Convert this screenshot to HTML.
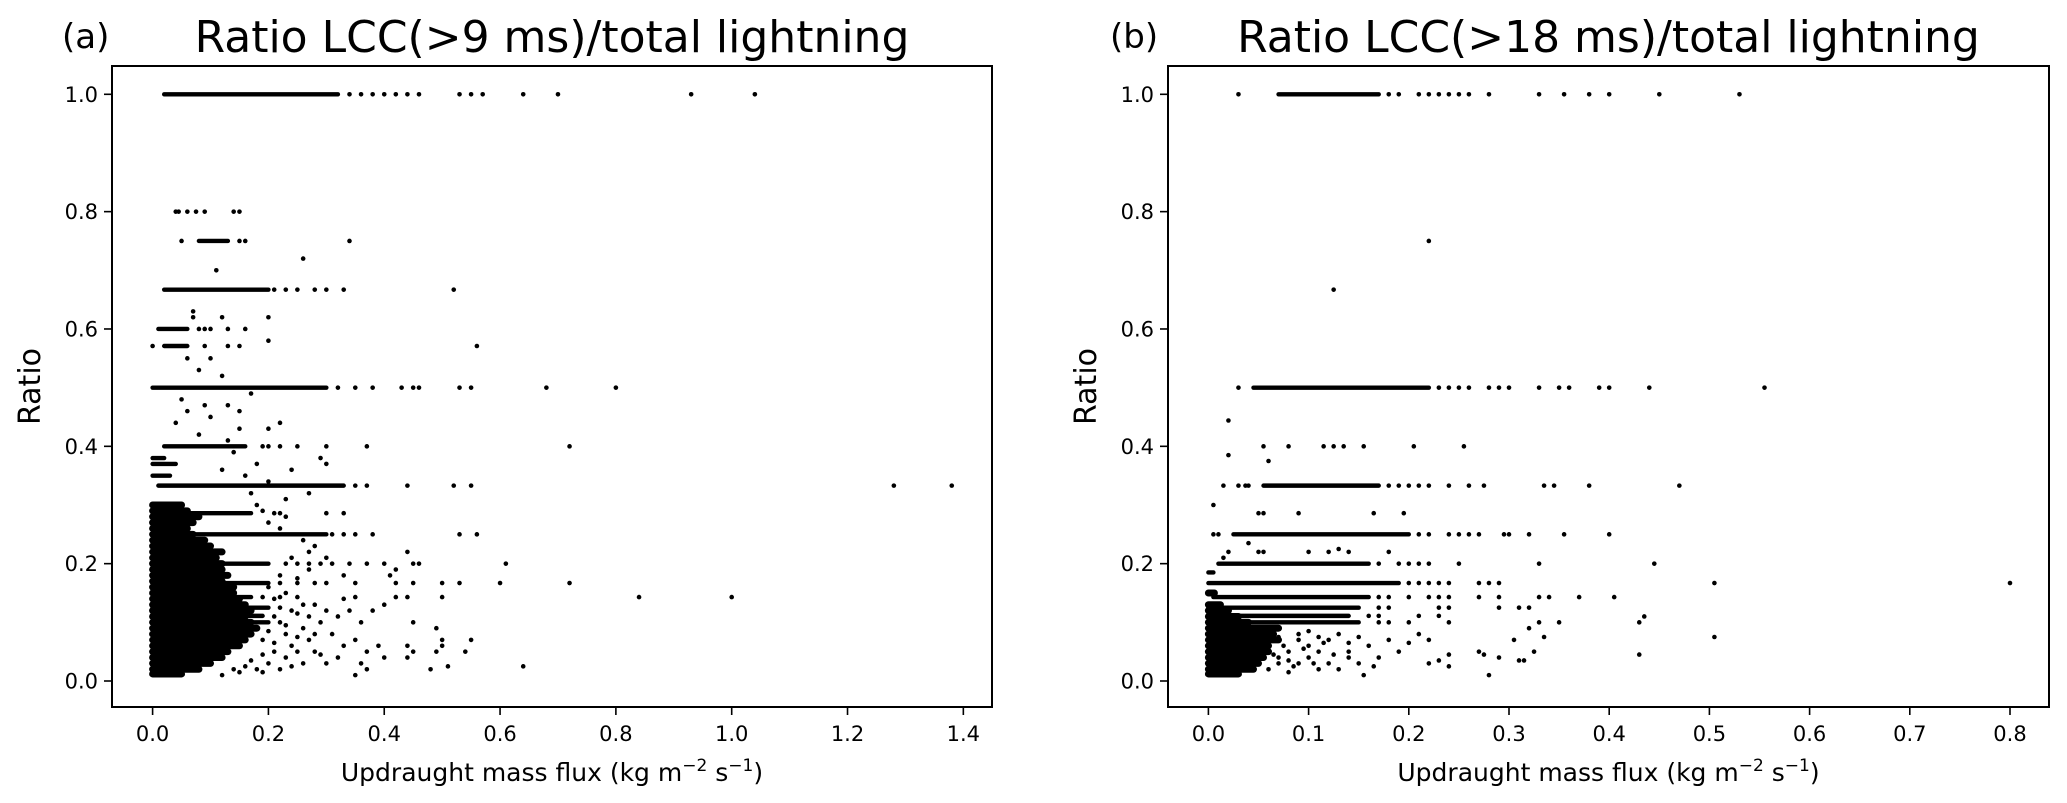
<!DOCTYPE html>
<html><head><meta charset="utf-8"><style>
html,body{margin:0;padding:0;background:#fff;}
svg{display:block;font-family:"DejaVu Sans","Liberation Sans",sans-serif;}
</style></head><body>
<svg id="chart" width="2067" height="803" viewBox="0 0 2067 803"></svg>
<script>
// ---------- data ----------
const xTicksA = [0.0,0.2,0.4,0.6,0.8,1.0,1.2,1.4];
const xTickLabelsA = ["0.0","0.2","0.4","0.6","0.8","1.0","1.2","1.4"];
const xTicksB = [0.0,0.1,0.2,0.3,0.4,0.5,0.6,0.7,0.8];
const xTickLabelsB = ["0.0","0.1","0.2","0.3","0.4","0.5","0.6","0.7","0.8"];
const yTicks = [0.0,0.2,0.4,0.6,0.8,1.0];
const yTickLabels = ["0.0","0.2","0.4","0.6","0.8","1.0"];

// dense rows: [ratio, xStart, xEnd]
const rowsA = [
[1.0,0.02,0.32],[0.75,0.08,0.13],[0.667,0.02,0.2],[0.6,0.01,0.06],[0.571,0.02,0.06],
[0.5,0.0,0.3],[0.4,0.02,0.16],[0.333,0.01,0.33],[0.286,0.01,0.17],[0.25,0.0,0.3],
[0.2,0.0,0.2],[0.167,0.0,0.2],[0.143,0.0,0.17],[0.125,0.0,0.2],[0.111,0.0,0.19],[0.1,0.0,0.2],
[0.35,0.0,0.03],[0.37,0.0,0.04],[0.38,0.0,0.02]
];
// solid dense core: [ratio, xStart, xEnd]
const blobA = [
[0.30,0.0,0.05],[0.29,0.0,0.06],[0.28,0.0,0.08],[0.27,0.0,0.07],[0.26,0.0,0.06],[0.25,0.0,0.07],[0.24,0.0,0.09],
[0.23,0.0,0.1],[0.22,0.0,0.12],[0.21,0.0,0.11],[0.20,0.0,0.12],[0.19,0.0,0.12],[0.18,0.0,0.13],[0.17,0.0,0.12],
[0.16,0.0,0.14],[0.15,0.0,0.14],[0.14,0.0,0.15],[0.13,0.0,0.16],[0.12,0.0,0.17],[0.11,0.0,0.16],[0.10,0.0,0.17],
[0.09,0.0,0.18],[0.08,0.0,0.17],[0.07,0.0,0.16],[0.06,0.0,0.15],[0.05,0.0,0.13],[0.04,0.0,0.12],
[0.03,0.0,0.1],[0.02,0.0,0.08],[0.012,0.0,0.05]
];
const ptsA = [
[0.34,1],[0.36,1],[0.38,1],[0.40,1],[0.42,1],[0.44,1],[0.46,1],[0.53,1],[0.55,1],[0.57,1],[0.64,1],[0.70,1],[0.93,1],[1.04,1],
[0.04,0.8],[0.045,0.8],[0.06,0.8],[0.075,0.8],[0.09,0.8],[0.14,0.8],[0.15,0.8],
[0.05,0.75],[0.15,0.75],[0.16,0.75],[0.34,0.75],[0.11,0.7],[0.26,0.72],
[0.21,0.667],[0.23,0.667],[0.25,0.667],[0.28,0.667],[0.30,0.667],[0.33,0.667],[0.52,0.667],
[0.08,0.6],[0.09,0.6],[0.1,0.6],[0.13,0.6],[0.16,0.6],[0.0,0.571],[0.09,0.571],[0.13,0.571],[0.15,0.571],[0.56,0.571],
[0.32,0.5],[0.35,0.5],[0.38,0.5],[0.43,0.5],[0.45,0.5],[0.46,0.5],[0.53,0.5],[0.55,0.5],[0.68,0.5],[0.80,0.5],
[0.19,0.4],[0.2,0.4],[0.22,0.4],[0.25,0.4],[0.3,0.4],[0.37,0.4],[0.72,0.4],
[0.35,0.333],[0.37,0.333],[0.44,0.333],[0.52,0.333],[0.55,0.333],[1.28,0.333],[1.38,0.333],
[0.3,0.286],[0.33,0.286],[0.21,0.286],[0.22,0.286],
[0.31,0.25],[0.33,0.25],[0.35,0.25],[0.38,0.25],[0.53,0.25],[0.56,0.25],
[0.23,0.2],[0.25,0.2],[0.27,0.2],[0.29,0.2],[0.31,0.2],[0.34,0.2],[0.37,0.2],[0.40,0.2],[0.45,0.2],[0.46,0.2],[0.61,0.2],
[0.22,0.167],[0.25,0.167],[0.28,0.167],[0.3,0.167],[0.35,0.167],[0.42,0.167],[0.45,0.167],[0.5,0.167],[0.53,0.167],[0.6,0.167],[0.72,0.167],
[0.19,0.143],[0.22,0.143],[0.25,0.143],[0.35,0.143],[0.42,0.143],[0.44,0.143],[0.5,0.143],[0.84,0.143],[1.0,0.143],
[0.22,0.18],[0.25,0.175],[0.27,0.19],[0.24,0.21],[0.27,0.22],[0.3,0.21],[0.33,0.18],[0.36,0.1],[0.38,0.12],[0.4,0.13],
[0.41,0.18],[0.42,0.19],[0.44,0.22],[0.35,0.07],[0.37,0.05],[0.39,0.06],[0.4,0.04],[0.44,0.06],[0.45,0.05],[0.44,0.04],
[0.45,0.1],[0.49,0.09],[0.5,0.07],[0.49,0.05],[0.5,0.06],[0.48,0.02],[0.51,0.025],[0.54,0.05],[0.55,0.07],[0.64,0.025],
[0.35,0.01],[0.3,0.03],[0.32,0.04],[0.28,0.05],[0.26,0.03],[0.24,0.06],[0.31,0.08],[0.33,0.06],[0.36,0.03],[0.37,0.02],
[0.26,0.09],[0.29,0.1],[0.3,0.12],[0.32,0.11],[0.28,0.13],[0.33,0.14],[0.34,0.12],[0.22,0.1],[0.23,0.08],[0.21,0.05],
[0.2,0.03],[0.22,0.02],[0.19,0.07],[0.25,0.115],[0.27,0.07],[0.29,0.045],[0.18,0.02],[0.15,0.015],[0.12,0.01],[0.22,0.125],
[0.22,0.26],[0.2,0.27],[0.19,0.29],[0.18,0.3],[0.23,0.31],[0.27,0.32],[0.16,0.35],[0.12,0.36],[0.18,0.37],[0.13,0.41],
[0.08,0.42],[0.04,0.44],[0.09,0.47],[0.13,0.47],[0.17,0.49],[0.05,0.48],[0.1,0.55],[0.06,0.55],[0.08,0.53],[0.12,0.52],
[0.07,0.62],[0.07,0.63],[0.12,0.62],[0.2,0.62],[0.2,0.58],[0.15,0.46],[0.22,0.44],[0.2,0.43],[0.3,0.37],[0.29,0.38],
[0.2,0.34],[0.14,0.39],[0.1,0.45],[0.06,0.46],[0.15,0.43],[0.24,0.36],[0.26,0.24],[0.28,0.23],[0.23,0.28],[0.17,0.32],
[0.2,0.16],[0.21,0.14],[0.23,0.15],[0.24,0.12],[0.26,0.13],[0.21,0.11],[0.23,0.095],[0.25,0.075],[0.2,0.085],[0.27,0.11],
[0.19,0.045],[0.21,0.065],[0.23,0.04],[0.25,0.05],[0.17,0.035],[0.16,0.025],[0.19,0.015],[0.14,0.02],[0.24,0.025],[0.28,0.08]
];

const rowsB = [
[1.0,0.07,0.17],[0.5,0.045,0.22],[0.333,0.055,0.17],[0.25,0.025,0.2],[0.2,0.01,0.16],[0.167,0.0,0.19],
[0.143,0.005,0.16],[0.125,0.0,0.15],[0.111,0.0,0.14],[0.1,0.0,0.15],[0.185,0.0,0.005]
];
const blobB = [
[0.12,0.0,0.02],[0.11,0.0,0.03],[0.10,0.0,0.04],[0.09,0.0,0.07],[0.08,0.0,0.065],[0.07,0.0,0.07],[0.06,0.0,0.06],
[0.05,0.0,0.06],[0.04,0.0,0.055],[0.03,0.0,0.05],[0.02,0.0,0.045],[0.012,0.0,0.03],[0.13,0.0,0.012],[0.15,0.0,0.006]
];
const ptsB = [
[0.03,1],[0.18,1],[0.19,1],[0.21,1],[0.22,1],[0.23,1],[0.24,1],[0.25,1],[0.26,1],[0.28,1],[0.33,1],[0.355,1],[0.38,1],[0.40,1],[0.45,1],[0.53,1],
[0.22,0.75],[0.125,0.667],
[0.03,0.5],[0.23,0.5],[0.24,0.5],[0.25,0.5],[0.26,0.5],[0.28,0.5],[0.29,0.5],[0.3,0.5],[0.33,0.5],[0.35,0.5],[0.36,0.5],[0.39,0.5],[0.40,0.5],[0.44,0.5],[0.555,0.5],
[0.02,0.444],[0.055,0.4],[0.08,0.4],[0.115,0.4],[0.125,0.4],[0.135,0.4],[0.155,0.4],[0.205,0.4],[0.255,0.4],[0.02,0.385],[0.06,0.375],
[0.015,0.333],[0.03,0.333],[0.037,0.333],[0.04,0.333],[0.18,0.333],[0.19,0.333],[0.2,0.333],[0.21,0.333],[0.22,0.333],[0.24,0.333],[0.26,0.333],[0.275,0.333],[0.335,0.333],[0.345,0.333],[0.38,0.333],[0.47,0.333],
[0.005,0.3],[0.05,0.286],[0.055,0.286],[0.09,0.286],[0.165,0.286],[0.195,0.286],
[0.005,0.25],[0.01,0.25],[0.21,0.25],[0.22,0.25],[0.24,0.25],[0.25,0.25],[0.26,0.25],[0.27,0.25],[0.295,0.25],[0.3,0.25],[0.32,0.25],[0.355,0.25],[0.4,0.25],
[0.04,0.235],[0.05,0.22],[0.055,0.22],[0.1,0.22],[0.12,0.22],[0.13,0.225],[0.14,0.22],[0.18,0.22],[0.015,0.21],[0.02,0.22],
[0.17,0.2],[0.19,0.2],[0.2,0.2],[0.21,0.2],[0.22,0.2],[0.25,0.2],[0.33,0.2],[0.445,0.2],
[0.2,0.167],[0.21,0.167],[0.22,0.167],[0.23,0.167],[0.24,0.167],[0.27,0.167],[0.28,0.167],[0.29,0.167],[0.505,0.167],[0.8,0.167],
[0.17,0.143],[0.18,0.143],[0.2,0.143],[0.22,0.143],[0.23,0.143],[0.24,0.143],[0.27,0.143],[0.29,0.143],[0.33,0.143],[0.34,0.143],[0.37,0.143],[0.405,0.143],
[0.17,0.125],[0.18,0.125],[0.23,0.125],[0.24,0.125],[0.29,0.125],[0.31,0.125],[0.32,0.125],[0.16,0.111],[0.17,0.111],[0.21,0.111],[0.23,0.111],
[0.17,0.1],[0.18,0.1],[0.2,0.1],[0.24,0.1],[0.33,0.1],[0.35,0.1],
[0.07,0.09],[0.09,0.08],[0.1,0.085],[0.12,0.07],[0.13,0.08],[0.14,0.065],[0.15,0.075],[0.16,0.06],[0.18,0.07],[0.19,0.05],
[0.2,0.065],[0.21,0.08],[0.22,0.07],[0.22,0.03],[0.23,0.035],[0.24,0.025],[0.24,0.045],[0.27,0.05],[0.275,0.045],[0.28,0.01],[0.29,0.04],
[0.305,0.07],[0.31,0.035],[0.315,0.035],[0.32,0.09],[0.325,0.05],[0.335,0.075],[0.43,0.045],[0.43,0.1],[0.435,0.11],[0.505,0.075],
[0.06,0.06],[0.07,0.04],[0.08,0.05],[0.09,0.03],[0.1,0.04],[0.11,0.05],[0.12,0.03],[0.13,0.02],[0.14,0.04],[0.15,0.03],
[0.155,0.01],[0.165,0.025],[0.11,0.02],[0.08,0.015],[0.06,0.02],[0.1,0.06],[0.09,0.07],[0.11,0.075],[0.14,0.05],[0.17,0.04],
[0.07,0.075],[0.075,0.06],[0.08,0.035],[0.085,0.025],[0.095,0.055],[0.105,0.03],[0.115,0.065],[0.125,0.045],[0.065,0.045],[0.07,0.03]
];

// ---------- layout ----------
const NS = "http://www.w3.org/2000/svg";
const svg = document.getElementById("chart");
const yTop = 66, yBot = 707;
function yS(v){ return 681 - v*586.7; }
const panels = [
  {id:"a", left:112, right:992, x:(v)=>152.6+v*579.1, xt:xTicksA, xl:xTickLabelsA, rows:rowsA, blob:blobA, pts:ptsA,
   title:"Ratio LCC(>9 ms)/total lightning", tag:"(a)", tagX:62},
  {id:"b", left:1168, right:2049, x:(v)=>1208.4+v*1002, xt:xTicksB, xl:xTickLabelsB, rows:rowsB, blob:blobB, pts:ptsB,
   title:"Ratio LCC(>18 ms)/total lightning", tag:"(b)", tagX:1110}
];
function mk(tag, attrs, parent){
  const e = document.createElementNS(NS, tag);
  for (const k in attrs) e.setAttribute(k, attrs[k]);
  (parent||svg).appendChild(e);
  return e;
}
panels.forEach(p=>{
  const g = mk("g", {});
  
  
  const marks = mk("g", {fill:"#000", stroke:"#000"}, g);
  
  
  p.blob.forEach(r=>{
    const ln = mk("line", {x1:p.x(r[1]), x2:p.x(r[2]), y1:yS(r[0]), y2:yS(r[0]), "stroke-width":7, "stroke-linecap":"round"}, marks);
    
    
  });
  p.rows.forEach(r=>{
    const ln = mk("line", {x1:p.x(r[1]), x2:p.x(r[2]), y1:yS(r[0]), y2:yS(r[0]), "stroke-width":4.4, "stroke-linecap":"round"}, marks);
    
    
  });
  p.pts.forEach(pt=>{
    const c = mk("circle", {cx:p.x(pt[0]), cy:yS(pt[1]), r:2.3, stroke:"none"}, marks);
    
    
  });
  const frame = mk("rect", {x:p.left, y:yTop, width:p.right-p.left, height:yBot-yTop, fill:"none", stroke:"#000", "stroke-width":2}, g);
  
  
  p.xt.forEach((t,i)=>{
    const X = p.x(t);
    const tk = mk("line", {x1:X, x2:X, y1:yBot, y2:yBot+8, stroke:"#000", "stroke-width":1.6}, g);
    
    
    const tx = mk("text", {x:X, y:741, "text-anchor":"middle", "font-size":21}, g);
    tx.textContent = p.xl[i];
    
    
  });
  yTicks.forEach((t,i)=>{
    const Y = yS(t);
    const tk = mk("line", {x1:p.left-8, x2:p.left, y1:Y, y2:Y, stroke:"#000", "stroke-width":1.6}, g);
    
    
    const tx = mk("text", {x:p.left-14, y:Y+7.5, "text-anchor":"end", "font-size":21}, g);
    tx.textContent = yTickLabels[i];
    
    
  });
  const cx = (p.left+p.right)/2;
  const xt = mk("text", {x:cx, y:781, "text-anchor":"middle", "font-size":25}, g);
  xt.innerHTML = 'Updraught mass flux (kg m<tspan dy="-10" font-size="17">\u22122</tspan><tspan dy="10"> s</tspan><tspan dy="-10" font-size="17">\u22121</tspan><tspan dy="10">)</tspan>';
  
  
  const yt = mk("text", {x:0, y:0, "text-anchor":"middle", "font-size":30, transform:"translate("+(p.left-72)+","+((yTop+yBot)/2)+") rotate(-90)"}, g);
  yt.textContent = "Ratio";
  
  
  const tt = mk("text", {x:cx, y:52, "text-anchor":"middle", "font-size":44}, g);
  tt.textContent = p.title;
  
  
  const tg = mk("text", {x:p.tagX, y:48, "font-size":34}, g);
  tg.textContent = p.tag;
  
  
});
</script>
</body></html>
